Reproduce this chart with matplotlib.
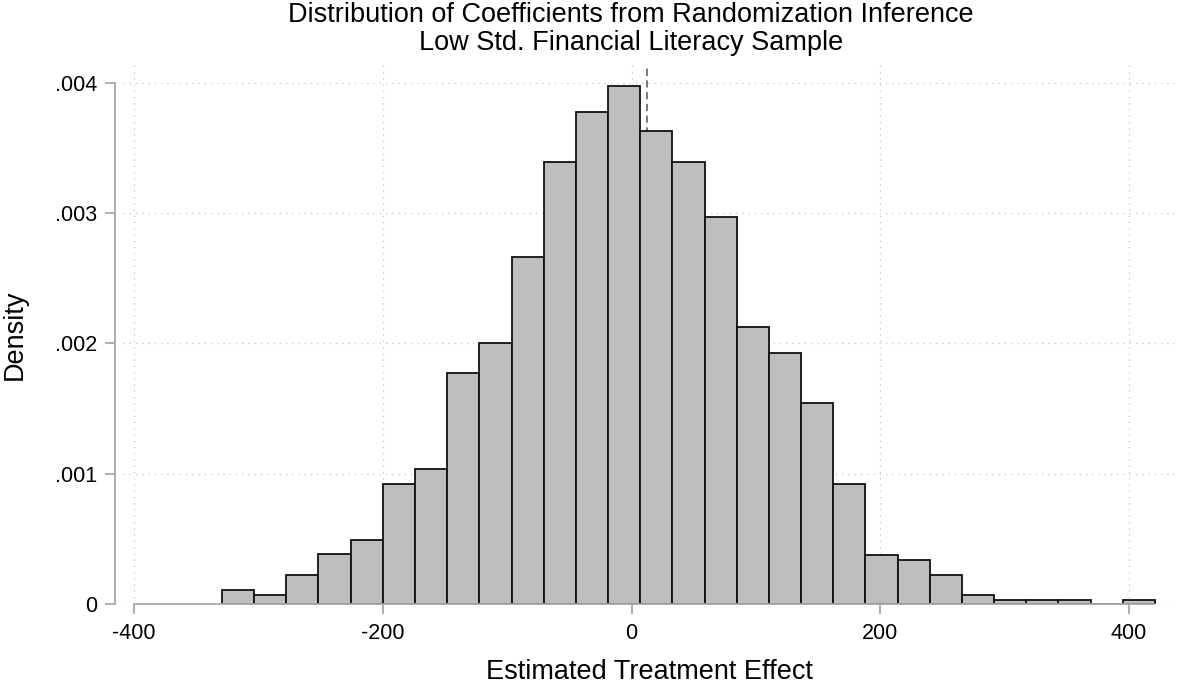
import matplotlib
matplotlib.use("Agg")
import matplotlib.pyplot as plt
import numpy as np

plt.rcParams['font.family'] = ['Liberation Sans', 'DejaVu Sans']

# histogram bins (Stata-style: start + width)
bin_start = -329.4
bin_width = 25.87
density = [0.000110, 0.000072, 0.000223, 0.000382, 0.000495, 0.000923,
           0.001038, 0.001774, 0.002005, 0.002662, 0.003395, 0.003780,
           0.003977, 0.003630, 0.003395, 0.002973, 0.002123, 0.001926,
           0.001544, 0.000923, 0.000379, 0.000341, 0.000223, 0.000069,
           0.000031, 0.000031, 0.000031, 0.0, 0.000031]
actual_effect = 12.4

xticks = [-400, -200, 0, 200, 400]
yticks = [0, 0.001, 0.002, 0.003, 0.004]
ytick_labels = ['0', '.001', '.002', '.003', '.004']

edges = bin_start + bin_width * np.arange(len(density) + 1)

W, H = 1177, 684
fig = plt.figure(figsize=(W / 100, H / 100), dpi=100)
ax = fig.add_axes([123 / W, 80 / H, (1175 - 123) / W, (604 - 64.7) / H])

gridc = '#c4c4c4'
for x in xticks:
    ax.axvline(x, color=gridc, lw=0.9, ls=(0, (1, 4)), zorder=0)
for y in yticks:
    ax.axhline(y, color=gridc, lw=0.9, ls=(0, (1, 4)), zorder=0)

ax.axvline(actual_effect, color='#6e6e6e', lw=1.3, ls=(0, (4, 2.5)), zorder=1)

ax.bar(edges[:-1], density, width=bin_width, align='edge',
       color='#bebebe', edgecolor='#111111', linewidth=1.3, zorder=2)

ax.set_xlim(-409, 437)
ax.set_ylim(0, 0.00414)

for s in ['top', 'right']:
    ax.spines[s].set_visible(False)
spc = '#a8a8a8'
ax.spines['left'].set_color(spc)
ax.spines['bottom'].set_color(spc)
ax.spines['left'].set_linewidth(1.3)
ax.spines['bottom'].set_linewidth(1.3)
ax.spines['left'].set_position(('outward', 6))
ax.spines['left'].set_bounds(0, 0.004)
ax.spines['bottom'].set_bounds(-400, 420)
ax.spines['bottom'].set_zorder(3)

ax.set_xticks(xticks)
ax.set_xticklabels([str(v) for v in xticks])
ax.set_yticks(yticks)
ax.set_yticklabels(ytick_labels)
ax.tick_params(axis='both', colors=spc, labelcolor='black', labelsize=15.5,
               length=7.5, width=1.3, direction='out')
ax.tick_params(axis='y', pad=5)
ax.tick_params(axis='x', pad=6)

ax.set_xlabel('Estimated Treatment Effect', fontsize=19.5, labelpad=11)
ax.set_ylabel('Density', fontsize=19.5, labelpad=20)

fig.text(631 / W, 1 - 15 / H,
         'Distribution of Coefficients from Randomization Inference',
         ha='center', va='center', fontsize=19.5)
fig.text(631 / W, 1 - 43 / H,
         'Low Std. Financial Literacy Sample',
         ha='center', va='center', fontsize=19.5)

fig.savefig('out.png', dpi=100)
